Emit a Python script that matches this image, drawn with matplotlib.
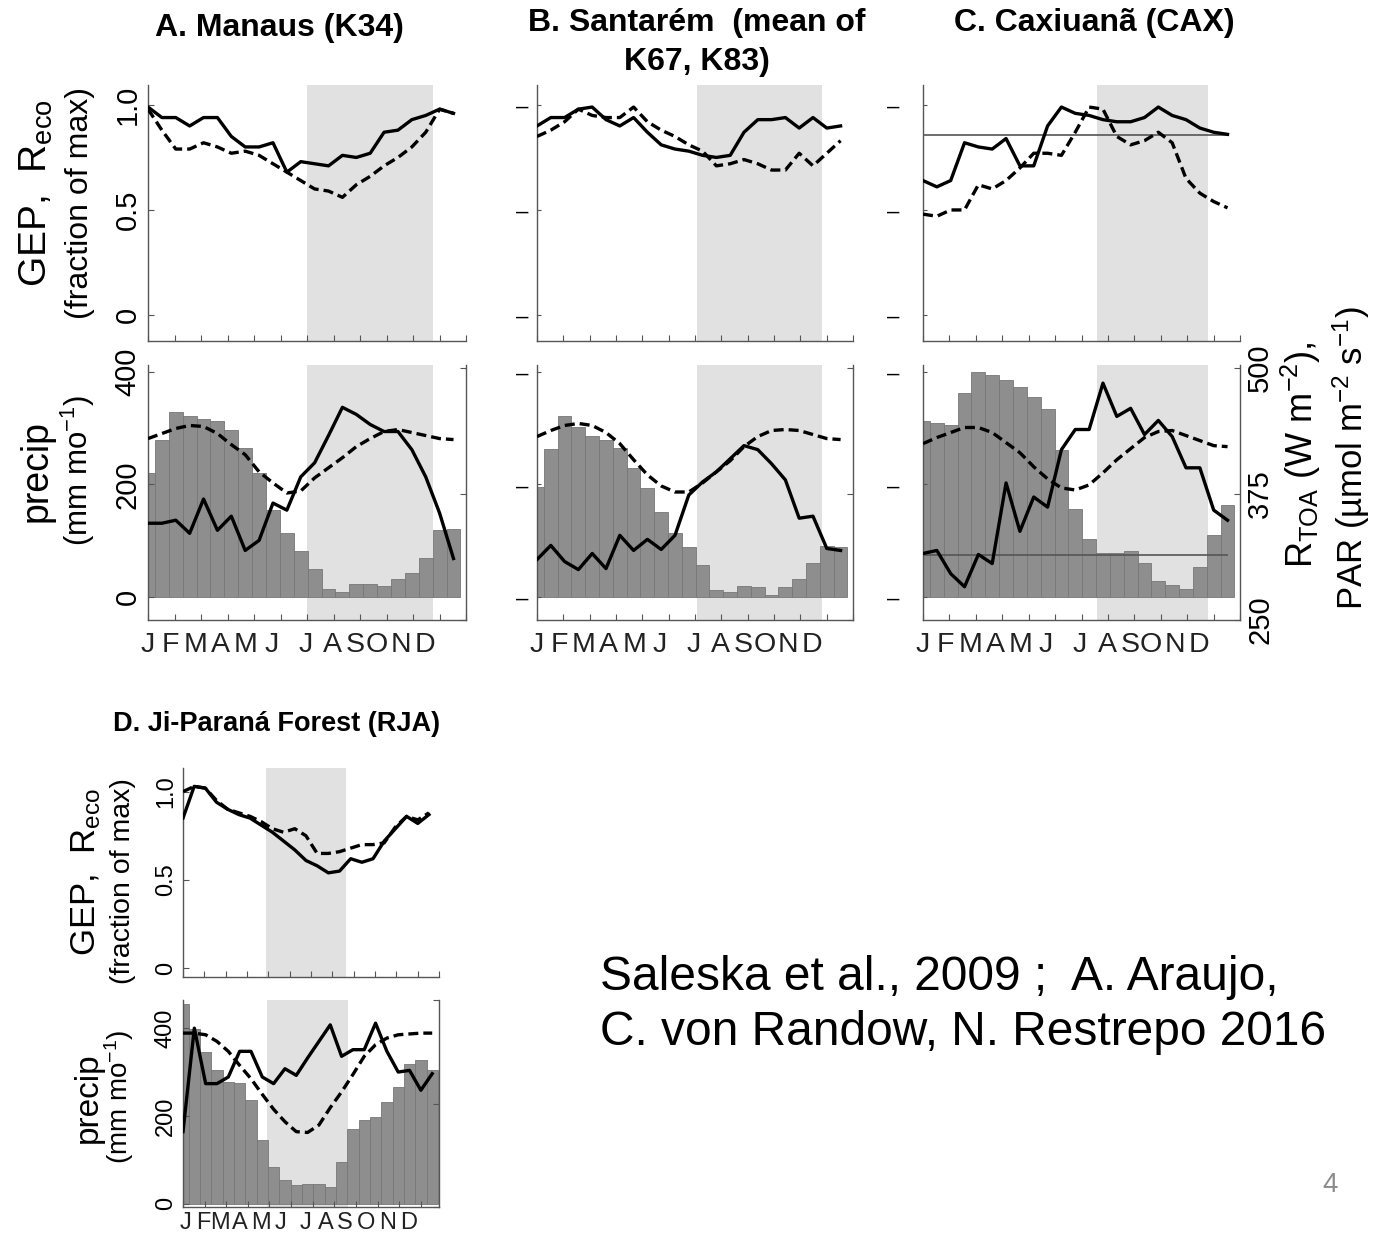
import numpy as np
import matplotlib
matplotlib.use("Agg")
import matplotlib.pyplot as plt
from matplotlib.transforms import blended_transform_factory

plt.rcParams['font.family'] = ['Liberation Sans', 'DejaVu Sans']
plt.rcParams['mathtext.fontset'] = 'custom'
plt.rcParams['mathtext.rm'] = 'Liberation Sans'
plt.rcParams['mathtext.it'] = 'Liberation Sans:italic'
plt.rcParams['axes.linewidth'] = 1.0

months = list("JFMAMJJASOND")

# semi-monthly climatologies, Jan -> Dec (23 points each)
# GEP / Reco as fraction of max, precip in mm/mo, PAR and R_TOA on the radiation axis

# A. Manaus (K34)
gep_k34 = [0.99, 0.94, 0.94, 0.90, 0.94, 0.94, 0.85, 0.80, 0.80, 0.82, 0.68, 0.73,
           0.72, 0.71, 0.76, 0.75, 0.77, 0.87, 0.88, 0.93, 0.95, 0.98, 0.96]
reco_k34 = [0.98, 0.88, 0.79, 0.79, 0.82, 0.80, 0.77, 0.78, 0.76, 0.72, 0.68, 0.64,
            0.60, 0.59, 0.56, 0.62, 0.66, 0.71, 0.75, 0.80, 0.87, 0.98, 0.96]
precip_k34 = [220, 279, 329, 322, 316, 313, 297, 264, 221, 155, 113, 82,
              49, 14, 9, 23, 23, 20, 31, 42, 70, 118, 120]
par_k34 = [346, 346, 349, 336, 370, 339, 353, 319, 329, 366, 359, 392,
           406, 433, 461, 454, 444, 437, 437, 419, 392, 356, 311]
rtoa_k34 = [430, 435, 440, 443, 442, 435, 424, 414, 397, 386, 376, 378,
            391, 401, 411, 422, 430, 437, 439, 436, 433, 430, 429]
dry_k34 = (11.45, 20.55)

# B. Santarem (mean of K67, K83)
gep_stm = [0.90, 0.94, 0.94, 0.98, 0.99, 0.93, 0.90, 0.94, 0.87, 0.81, 0.79, 0.78,
           0.76, 0.75, 0.76, 0.87, 0.93, 0.93, 0.94, 0.89, 0.94, 0.89, 0.90]
reco_stm = [0.85, 0.88, 0.92, 0.98, 0.95, 0.94, 0.94, 0.99, 0.92, 0.88, 0.85, 0.81,
            0.78, 0.71, 0.72, 0.74, 0.72, 0.69, 0.69, 0.77, 0.71, 0.77, 0.83]
precip_stm = [196, 263, 322, 302, 286, 279, 264, 229, 193, 150, 113, 88,
              56, 12, 9, 20, 17, 4, 17, 31, 60, 91, 88]
par_stm = [310, 324, 308, 300, 316, 301, 334, 319, 330, 320, 334, 374,
           387, 397, 410, 423, 419, 405, 389, 351, 353, 321, 319]
rtoa_stm = [432, 438, 443, 445, 443, 436, 425, 409, 394, 383, 377, 377,
            386, 397, 408, 422, 432, 438, 439, 438, 434, 430, 429]
dry_stm = (11.6, 20.65)

# C. Caxiuana (CAX)
gep_cax = [0.64, 0.61, 0.64, 0.82, 0.80, 0.79, 0.84, 0.71, 0.71, 0.90, 0.99, 0.96,
           0.95, 0.93, 0.92, 0.92, 0.94, 0.99, 0.95, 0.93, 0.89, 0.87, 0.86]
reco_cax = [0.48, 0.47, 0.50, 0.50, 0.62, 0.60, 0.64, 0.70, 0.77, 0.77, 0.76, 0.87,
            0.99, 0.98, 0.85, 0.81, 0.83, 0.87, 0.82, 0.65, 0.58, 0.54, 0.51]
precip_cax = [313, 309, 306, 362, 400, 395, 386, 373, 355, 334, 261, 156,
              103, 78, 78, 82, 60, 29, 21, 14, 53, 110, 164]
par_cax = [316, 319, 296, 283, 315, 306, 386, 338, 372, 362, 419, 439,
           439, 485, 452, 460, 434, 448, 432, 401, 401, 359, 349]
rtoa_cax = [425, 431, 436, 441, 441, 436, 426, 416, 402, 390, 381, 379,
            384, 396, 409, 420, 431, 437, 438, 433, 428, 423, 422]
dry_cax = (12.6, 20.6)
gep_ref_cax = 0.857
par_ref_cax = 314

# D. Ji-Parana Forest (RJA)
gep_rja = [0.85, 1.03, 1.02, 0.94, 0.90, 0.87, 0.85, 0.81, 0.77, 0.72, 0.67, 0.61,
           0.58, 0.54, 0.55, 0.62, 0.60, 0.62, 0.72, 0.79, 0.86, 0.82, 0.87]
reco_rja = [1.00, 1.03, 1.02, 0.95, 0.90, 0.88, 0.86, 0.83, 0.79, 0.77, 0.79, 0.75,
            0.65, 0.65, 0.66, 0.68, 0.70, 0.70, 0.71, 0.80, 0.86, 0.84, 0.88]
precip_rja = [456, 399, 346, 304, 278, 274, 236, 144, 84, 53, 42, 45,
              45, 38, 95, 171, 190, 198, 232, 266, 319, 327, 304]
par_rja = [341, 466, 399, 399, 407, 438, 438, 407, 399, 417, 409, 430,
           450, 470, 432, 440, 440, 472, 438, 413, 415, 391, 411]
rtoa_rja = [460, 460, 458, 450, 438, 421, 405, 386, 368, 353, 341, 340,
            349, 370, 389, 410, 432, 446, 454, 458, 459, 460, 460]
dry_rja = (7.4, 14.6)

W, H = 1391, 1241
SHADE = '#e1e1e1'
BAR = '#8e8e8e'
AXC = '#555555'
DASH = (0, (3.0, 1.5))
YEAR = 22.9          # x-extent of one year in series units
MONTH = YEAR / 12

month_pos_abc = [0.0, 1.6, 3.41, 5.2, 7.06, 8.88, 11.34, 13.31, 14.94, 16.48, 18.2, 19.96]
month_pos_d = [0.2, 1.75, 3.3, 5.05, 6.9, 8.6, 10.8, 12.6, 14.3, 16.2, 18.1, 19.95]

fig = plt.figure(figsize=(W / 100, H / 100), dpi=100)


def rect(x0, y0, x1, y1):
    # pixel box (top-left origin) -> figure fraction
    return [x0 / W, 1 - y1 / H, (x1 - x0) / W, (y1 - y0) / H]


def draw_site(top_box, low_box, gep, reco, precip, par, rtoa, dry, xmax,
              top_ylim, low_ylim, rad_ylim, left, fs_tick, fs_month,
              month_pos, month_dy, right_labels=False):
    ax1 = fig.add_axes(rect(*top_box))
    ax2 = fig.add_axes(rect(*low_box))
    ax3 = ax2.twinx()

    for ax in (ax1, ax2):
        ax.axvspan(dry[0], dry[1], color=SHADE, lw=0, zorder=0)
        ax.set_xlim(0, xmax)
        ax.set_xticks(np.arange(13) * MONTH)
        ax.set_xticklabels([])
        ax.tick_params(axis='x', direction='in', length=4, color=AXC, width=0.8)
        ax.spines['top'].set_visible(False)
        ax.spines['right'].set_visible(False)
        for s in ('left', 'bottom'):
            ax.spines[s].set_color(AXC)

    x = np.arange(len(gep))
    ax1.plot(x, gep, color='black', lw=2.4, zorder=3)
    ax1.plot(x, reco, color='black', lw=2.4, ls=DASH, zorder=3)
    ax1.set_ylim(*top_ylim)

    xb = np.arange(len(precip))
    ax2.bar(xb, precip, width=1.0, color=BAR, edgecolor='#777777', lw=0.6, zorder=1)
    ax2.set_ylim(*low_ylim)

    ax3.plot(x, par, color='black', lw=2.4, zorder=3)
    ax3.plot(x, rtoa, color='black', lw=2.4, ls=DASH, zorder=3)
    ax3.set_ylim(*rad_ylim)
    ax3.set_xlim(0, xmax)
    for s in ('top', 'left', 'bottom'):
        ax3.spines[s].set_visible(False)
    ax3.spines['right'].set_color(AXC)
    ax3.set_yticks([250, 375, 500])
    ax3.tick_params(axis='y', direction='in', length=4, color=AXC, width=0.8,
                    labelsize=fs_tick, labelrotation=90, pad=4.5)
    if right_labels:
        for lab in ax3.get_yticklabels():
            lab.set_va('center')
    else:
        ax3.set_yticklabels([])

    ax1.set_yticks([0, 0.5, 1.0])
    ax2.set_yticks([0, 200, 400])
    if left == 'numbers':
        ax1.set_yticklabels(['0', '0.5', '1.0'])
        ax2.set_yticklabels(['0', '200', '400'])
        for ax in (ax1, ax2):
            ax.tick_params(axis='y', direction='in', length=4, color=AXC, width=0.8,
                           labelsize=fs_tick, labelrotation=90, pad=4.5)
            for lab in ax.get_yticklabels():
                lab.set_va('center')
    else:
        pad = 6.3 if left == 'near' else 17
        for ax in (ax1, ax2):
            ax.set_yticklabels(['\u2013'] * 3)
            ax.tick_params(axis='y', direction='in', length=3, color=AXC, width=0.8,
                           labelsize=16, pad=pad)

    trans = blended_transform_factory(ax2.transData, ax2.transAxes)
    for m, p in zip(months, month_pos):
        ax2.text(p, month_dy, m, transform=trans, ha='center', va='center',
                 fontsize=fs_month, color='#222222')
    return ax1, ax2, ax3


top_abc = (-0.124, 1.095)
low_abc = (-41, 412)
rad_abc = (250, 503)

draw_site((148, 85, 466, 341), (148, 365, 466, 620), gep_k34, reco_k34, precip_k34,
          par_k34, rtoa_k34, dry_k34, YEAR, top_abc, low_abc, rad_abc, 'numbers',
          21, 20.5, month_pos_abc, -0.098)
draw_site((537, 85, 853, 341), (537, 365, 853, 620), gep_stm, reco_stm, precip_stm,
          par_stm, rtoa_stm, dry_stm, YEAR, top_abc, low_abc, rad_abc, 'near',
          21, 20.5, month_pos_abc, -0.098)
c1, c2, c3 = draw_site((923, 85, 1240, 341), (923, 365, 1240, 620), gep_cax, reco_cax,
                       precip_cax, par_cax, rtoa_cax, dry_cax, YEAR, top_abc, low_abc,
                       rad_abc, 'far', 21, 20.5, month_pos_abc, -0.098, right_labels=True)
c1.hlines(gep_ref_cax, 0, len(gep_cax) - 1, color='#555555', lw=1.2, zorder=2)
c3.hlines(par_ref_cax, 0, len(par_cax) - 1, color='#555555', lw=1.2, zorder=2)

draw_site((183, 768, 439, 977), (183, 1000, 439, 1207), gep_rja, reco_rja, precip_rja,
          par_rja, rtoa_rja, dry_rja, 22.6, (-0.05, 1.134), (-7.6, 464), (250, 500),
          'numbers', 17, 17, month_pos_d, -0.077)


def ftext(x, y, s, **kw):
    fig.text(x / W, 1 - y / H, s, **kw)


# panel titles
bold = dict(ha='center', va='center', fontweight='bold')
ftext(279, 28, 'A. Manaus (K34)', fontsize=23, **bold)
ftext(697, 23, 'B. Santar\u00e9m  (mean of', fontsize=23, **bold)
ftext(697, 62, 'K67, K83)', fontsize=23, **bold)
ftext(1094, 23, 'C. Caxiuan\u00e3 (CAX)', fontsize=23, **bold)
ftext(277, 724, 'D. Ji-Paran\u00e1 Forest (RJA)', fontsize=19.5, **bold)

# axis titles (rotated, anchored on their baseline)
rot = dict(rotation=90, rotation_mode='anchor', ha='center', va='baseline')
ftext(47, 193, r'GEP,  R$_{\rm eco}$', fontsize=28, **rot)
ftext(88, 203, '(fraction of max)', fontsize=23, **rot)
ftext(47, 471, 'precip', fontsize=27, **rot)
ftext(88, 470, r'(mm mo$^{-1}$)', fontsize=22.5, **rot)

ftext(95, 872, r'GEP,  R$_{\rm eco}$', fontsize=25, **rot)
ftext(130, 881, '(fraction of max)', fontsize=20.5, **rot)
ftext(97, 1098, 'precip', fontsize=24, **rot)
ftext(128, 1097, r'(mm mo$^{-1}$)', fontsize=20, **rot)

ftext(1313, 455, r'R$_{\rm TOA}$ (W m$^{-2}$),', fontsize=26, **rot)
ftext(1363, 458, 'PAR (\u00b5mol m$^{-2}$ s$^{-1}$)', fontsize=25, **rot)

# source note and slide number
ftext(600, 990, 'Saleska et al., 2009 ;  A. Araujo,', fontsize=34.5, va='baseline')
ftext(600, 1045, 'C. von Randow, N. Restrepo 2016', fontsize=34.5, va='baseline')
ftext(1330, 1185, '4', fontsize=20, color='#8c8c8c', ha='center', va='center')

fig.savefig('out.png', dpi=100)
